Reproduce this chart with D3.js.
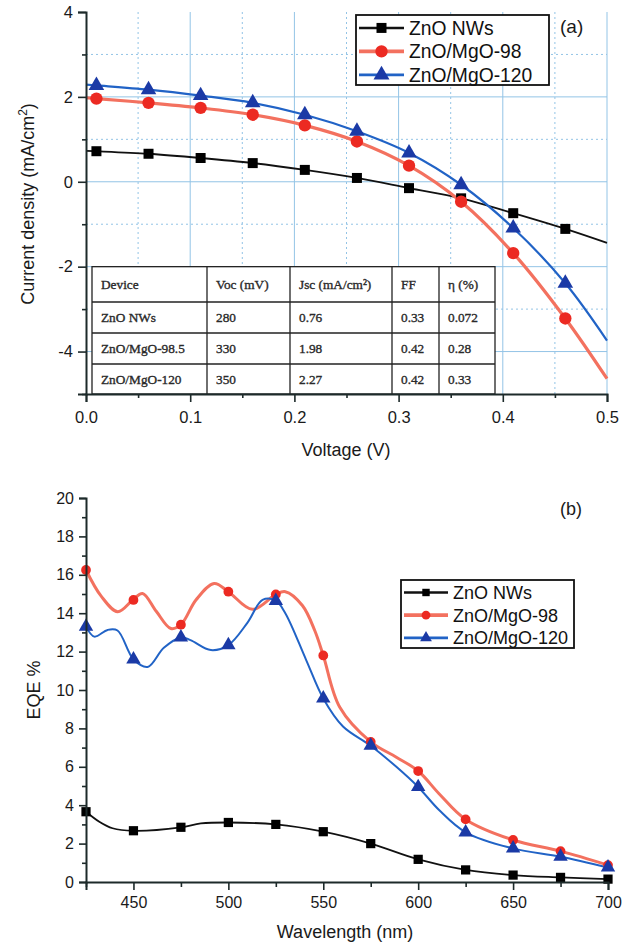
<!DOCTYPE html>
<html><head><meta charset="utf-8">
<script src="https://cdn.jsdelivr.net/npm/d3@7"></script>
<style>body{margin:0;background:#fff}svg{display:block}</style>
</head><body><svg id="c" width="642" height="947"></svg>
<script>
// ---------- data ----------
const seriesNames = ["ZnO NWs", "ZnO/MgO-98", "ZnO/MgO-120"];

// (a) J-V curves
const jvVoltage = [0, 0.01, 0.06, 0.11, 0.16, 0.21, 0.26, 0.31, 0.36, 0.41, 0.46, 0.5];
const jvMarkerFlag = [0, 1, 1, 1, 1, 1, 1, 1, 1, 1, 1, 0];
const jvNW  = [0.73, 0.72, 0.66, 0.56, 0.44, 0.28, 0.09, -0.15, -0.39, -0.74, -1.11, -1.44];
const jv98  = [1.98, 1.96, 1.86, 1.74, 1.58, 1.33, 0.95, 0.38, -0.47, -1.68, -3.22, -4.64];
const jv120 = [2.29, 2.27, 2.17, 2.03, 1.86, 1.58, 1.19, 0.68, -0.07, -1.09, -2.39, -3.74];
const jvXTicks = [0, 0.1, 0.2, 0.3, 0.4, 0.5];
const jvXMinor = [0.05, 0.15, 0.25, 0.35, 0.45];
const jvYTicks = [-4, -2, 0, 2, 4];
const jvYMinor = [-5, -3, -1, 1, 3];

const tableHeader = ["Device", "Voc (mV)", "Jsc (mA/cm²)", "FF", "η (%)"];
const tableRows = [
  ["ZnO NWs", "280", "0.76", "0.33", "0.072"],
  ["ZnO/MgO-98.5", "330", "1.98", "0.42", "0.28"],
  ["ZnO/MgO-120", "350", "2.27", "0.42", "0.33"]
];

// (b) EQE: marker points
const eqeWl  = [425, 450, 475, 500, 525, 550, 575, 600, 625, 650, 675, 700];
const eqeNW  = [3.66, 2.67, 2.85, 3.10, 3.00, 2.62, 2.00, 1.18, 0.63, 0.36, 0.24, 0.15];
const eqe98  = [16.25, 14.69, 13.40, 15.12, 14.98, 11.80, 7.30, 5.78, 3.26, 2.19, 1.61, 0.88];
const eqe120 = [13.30, 11.60, 12.74, 12.34, 14.65, 9.56, 7.10, 4.95, 2.59, 1.75, 1.32, 0.76];
const traceNWWl  = [425, 432, 439, 450, 475, 485.5, 500, 525, 550, 575, 600, 625, 650, 675, 700];
const traceNW    = [3.66, 3.14, 2.80, 2.67, 2.85, 3.05, 3.10, 3.00, 2.62, 2.00, 1.18, 0.63, 0.36, 0.24, 0.15];
const trace98Wl  = [425, 432.9, 441.7, 449.6, 454.8, 462, 469.7, 475, 483, 492.5, 500, 512.7, 525, 530, 539, 545.5, 550, 558.7, 575, 588.5, 600, 611, 625, 650, 675, 700];
const trace98    = [16.25, 14.9, 14.08, 14.69, 15.03, 14.1, 13.2, 13.4, 14.7, 15.55, 15.12, 14.2, 14.98, 15.12, 14.4, 13.1, 11.8, 9.1, 7.3, 6.5, 5.78, 4.6, 3.26, 2.19, 1.61, 0.88];
const trace120Wl = [425, 429.4, 436.4, 441.6, 450, 457.5, 466, 475, 480, 490.8, 500, 510, 518, 525, 530, 541, 550, 560.4, 575, 588.5, 600, 611, 625, 650, 675, 700];
const trace120   = [13.3, 12.78, 13.13, 13.1, 11.6, 11.2, 12.2, 12.74, 12.6, 12.08, 12.34, 13.5, 14.69, 14.65, 14.0, 11.56, 9.56, 8.1, 7.1, 6.0, 4.95, 3.75, 2.59, 1.75, 1.32, 0.76];
const eqeXTicks = [450, 500, 550, 600, 650, 700];
const eqeXMinor = [425, 475, 525, 575, 625, 675];
const eqeYTicks = [0, 2, 4, 6, 8, 10, 12, 14, 16, 18, 20];
const eqeYMinor = [1, 3, 5, 7, 9, 11, 13, 15, 17, 19];

// ---------- styles ----------
const lineColor = ["#111111", "#f3715f", "#2163c6"];
const markColor = ["#000000", "#ec2a22", "#1b3aa6"];
const lineWidth = [1.8, 3.2, 2.2];
const symbols = [d3.symbolSquare, d3.symbolCircle, d3.symbolTriangle];
const FONT = "Liberation Sans, Arial, sans-serif";
const SERIF = "Liberation Serif, Times New Roman, serif";

const svg = d3.select("#c");
svg.append("rect").attr("width", 642).attr("height", 947).attr("fill", "#fff");

// ================= (a) =================
const xA = d3.scaleLinear().domain([0, 0.5]).range([86, 607]);
const yA = d3.scaleLinear().domain([-5, 4]).range([394, 12]);
const gA = svg.append("g");

// grid
const gridColor = "#93c4e6";
d3.range(-4, 4).forEach(v => {
  gA.append("line").attr("x1", xA(0)).attr("x2", xA(0.5)).attr("y1", yA(v)).attr("y2", yA(v))
    .attr("stroke", gridColor).attr("stroke-width", 1)
    .attr("stroke-dasharray", v % 2 === 0 ? null : "2,3");
});
d3.range(1, 11).forEach(i => {
  const v = i * 0.05;
  gA.append("line").attr("x1", xA(v)).attr("x2", xA(v)).attr("y1", yA(4)).attr("y2", yA(-5))
    .attr("stroke", gridColor).attr("stroke-width", 1)
    .attr("stroke-dasharray", i % 2 === 0 ? null : "2,3");
});

// table
const colX = [92, 207, 290, 392, 439, 495];
const rowY = [yA(-2), 302, 333, 364, yA(-5)];
const tG = gA.append("g");
tG.append("rect").attr("x", colX[0]).attr("y", rowY[0]).attr("width", colX[5] - colX[0])
  .attr("height", rowY[4] - rowY[0]).attr("fill", "#fff").attr("stroke", "#222").attr("stroke-width", 1.3);
colX.slice(1, 5).forEach(x => tG.append("line").attr("x1", x).attr("x2", x).attr("y1", rowY[0]).attr("y2", rowY[4]).attr("stroke", "#222").attr("stroke-width", 1.3));
rowY.slice(1, 4).forEach(y => tG.append("line").attr("x1", colX[0]).attr("x2", colX[5]).attr("y1", y).attr("y2", y).attr("stroke", "#222").attr("stroke-width", 1.3));
[tableHeader].concat(tableRows).forEach((row, r) => {
  row.forEach((txt, c) => {
    tG.append("text").attr("x", colX[c] + 9).attr("y", (rowY[r] + rowY[r + 1]) / 2 + 4.5)
      .attr("font-family", SERIF).attr("font-size", 13.3)
      .attr("fill", "#2a2a2a").attr("stroke", "#2a2a2a").attr("stroke-width", 0.35).text(txt);
  });
});

// curves
const jvSeries = [jvNW, jv98, jv120];
const lineA = d3.line().x(d => xA(d[0])).y(d => yA(d[1])).curve(d3.curveCatmullRom.alpha(0.5));
jvSeries.forEach((vals, s) => {
  const pts = jvVoltage.map((v, i) => [v, vals[i]]);
  gA.append("path").attr("d", lineA(pts)).attr("fill", "none")
    .attr("stroke", lineColor[s]).attr("stroke-width", lineWidth[s]);
});
const symSizeA = [100, 120, 105];
jvSeries.forEach((vals, s) => {
  jvVoltage.forEach((v, i) => {
    if (!jvMarkerFlag[i]) return;
    gA.append("path").attr("d", d3.symbol(symbols[s], symSizeA[s])())
      .attr("transform", `translate(${xA(v)},${yA(vals[i])})`).attr("fill", markColor[s]);
  });
});

// axes
function styleAxis(g) {
  g.select(".domain").attr("stroke", "#1d2a2a").attr("stroke-width", 2);
  g.selectAll(".tick line").attr("stroke", "#1d2a2a").attr("stroke-width", 1.6);
  g.selectAll(".tick text").attr("font-family", FONT).attr("font-size", 16.5).attr("fill", "#1a1a1a");
}
const axA_y = gA.append("g").attr("transform", `translate(${xA(0)},0)`)
  .call(d3.axisLeft(yA).tickValues(jvYTicks).tickSize(8).tickPadding(5).tickFormat(d3.format("d")));
styleAxis(axA_y);
axA_y.selectAll(".tick text").text(d => d < 0 ? "-" + Math.abs(d) : d);
gA.append("g").attr("transform", `translate(${xA(0)},0)`)
  .call(d3.axisLeft(yA).tickValues(jvYMinor).tickSize(4).tickFormat("")).call(g => { g.select(".domain").remove(); g.selectAll("line").attr("stroke", "#1d2a2a").attr("stroke-width", 1.6); });
const axA_x = gA.append("g").attr("transform", `translate(0,${yA(-5)})`)
  .call(d3.axisBottom(xA).tickValues(jvXTicks).tickSize(8).tickPadding(9).tickFormat(d3.format(".1f")));
styleAxis(axA_x);
gA.append("g").attr("transform", `translate(0,${yA(-5)})`)
  .call(d3.axisBottom(xA).tickValues(jvXMinor).tickSize(4).tickFormat("")).call(g => { g.select(".domain").remove(); g.selectAll("line").attr("stroke", "#1d2a2a").attr("stroke-width", 1.6); });

gA.append("text").attr("x", 346).attr("y", 456).attr("text-anchor", "middle")
  .attr("font-family", FONT).attr("font-size", 18).attr("fill", "#1a1a1a").text("Voltage (V)");
const ylA = gA.append("text").attr("transform", "translate(34,204) rotate(-90)").attr("text-anchor", "middle")
  .attr("font-family", FONT).attr("font-size", 18).attr("fill", "#1a1a1a");
ylA.append("tspan").text("Current density (mA/cm");
ylA.append("tspan").attr("font-size", 12).attr("dy", -7).text("2");
ylA.append("tspan").attr("dy", 7).text(")");
gA.append("text").attr("x", 560).attr("y", 33).attr("font-family", FONT).attr("font-size", 19).attr("fill", "#1a1a1a").text("(a)");

// legend
function legend(g, x0, y0, w, h, rowH, fs, lineLen, symScale) {
  g.append("rect").attr("x", x0).attr("y", y0).attr("width", w).attr("height", h)
    .attr("fill", "#fff").attr("stroke", "#111").attr("stroke-width", 1.8);
  seriesNames.forEach((name, s) => {
    const cy = y0 + rowH * 0.55 + s * rowH;
    g.append("line").attr("x1", x0 + 3).attr("x2", x0 + 3 + lineLen).attr("y1", cy).attr("y2", cy)
      .attr("stroke", lineColor[s]).attr("stroke-width", lineWidth[s] + 0.6);
    g.append("path").attr("d", d3.symbol(symbols[s], symScale[s])())
      .attr("transform", `translate(${x0 + 3 + lineLen / 2},${cy})`).attr("fill", markColor[s]);
    g.append("text").attr("x", x0 + 8 + lineLen).attr("y", cy + fs * 0.36)
      .attr("font-family", FONT).attr("font-size", fs).attr("fill", "#111").text(name);
  });
}
legend(gA, 356, 15, 193, 70, 23.5, 19.3, 45, [100, 120, 110]);

// ================= (b) =================
const xB = d3.scaleLinear().domain([425, 700]).range([86, 608]);
const yB = d3.scaleLinear().domain([0, 20]).range([882, 498]);
const gB = svg.append("g");
const lineB = d3.line().x(d => xB(d[0])).y(d => yB(d[1])).curve(d3.curveCatmullRom.alpha(0.5));
const traces = [[traceNWWl, traceNW], [trace98Wl, trace98], [trace120Wl, trace120]];
const lwB = [1.8, 3, 2];
[1, 2, 0].forEach(s => {
  const [wl, v] = traces[s];
  gB.append("path").attr("d", lineB(wl.map((w, i) => [w, v[i]]))).attr("fill", "none")
    .attr("stroke", lineColor[s]).attr("stroke-width", lwB[s]);
});
const eqeSeries = [eqeNW, eqe98, eqe120];
const symSizeB = [85, 75, 90];
eqeSeries.forEach((vals, s) => {
  eqeWl.forEach((w, i) => {
    gB.append("path").attr("d", d3.symbol(symbols[s], symSizeB[s])())
      .attr("transform", `translate(${xB(w)},${yB(vals[i])})`).attr("fill", markColor[s]);
  });
});
const axB_y = gB.append("g").attr("transform", `translate(${xB(425)},0)`)
  .call(d3.axisLeft(yB).tickValues(eqeYTicks).tickSize(7).tickPadding(5));
styleAxis(axB_y);
axB_y.selectAll(".tick text").attr("font-size", 16);
gB.append("g").attr("transform", `translate(${xB(425)},0)`)
  .call(d3.axisLeft(yB).tickValues(eqeYMinor).tickSize(4).tickFormat("")).call(g => { g.select(".domain").remove(); g.selectAll("line").attr("stroke", "#1d2a2a").attr("stroke-width", 1.6); });
const axB_x = gB.append("g").attr("transform", `translate(0,${yB(0)})`)
  .call(d3.axisBottom(xB).tickValues(eqeXTicks).tickSize(8).tickPadding(7));
styleAxis(axB_x);
axB_x.selectAll(".tick text").attr("font-size", 16);
gB.append("g").attr("transform", `translate(0,${yB(0)})`)
  .call(d3.axisBottom(xB).tickValues(eqeXMinor).tickSize(5).tickFormat("")).call(g => { g.select(".domain").remove(); g.selectAll("line").attr("stroke", "#1d2a2a").attr("stroke-width", 1.6); });

gB.append("text").attr("x", 345).attr("y", 938).attr("text-anchor", "middle")
  .attr("font-family", FONT).attr("font-size", 18).attr("fill", "#1a1a1a").text("Wavelength (nm)");
gB.append("text").attr("transform", "translate(40,690) rotate(-90)").attr("text-anchor", "middle")
  .attr("font-family", FONT).attr("font-size", 18).attr("fill", "#1a1a1a").text("EQE %");
gB.append("text").attr("x", 560).attr("y", 515).attr("font-family", FONT).attr("font-size", 18).attr("fill", "#1a1a1a").text("(b)");

legend(gB, 401, 580, 173, 68, 22.7, 18, 44, [55, 60, 60]);
</script></body></html>
